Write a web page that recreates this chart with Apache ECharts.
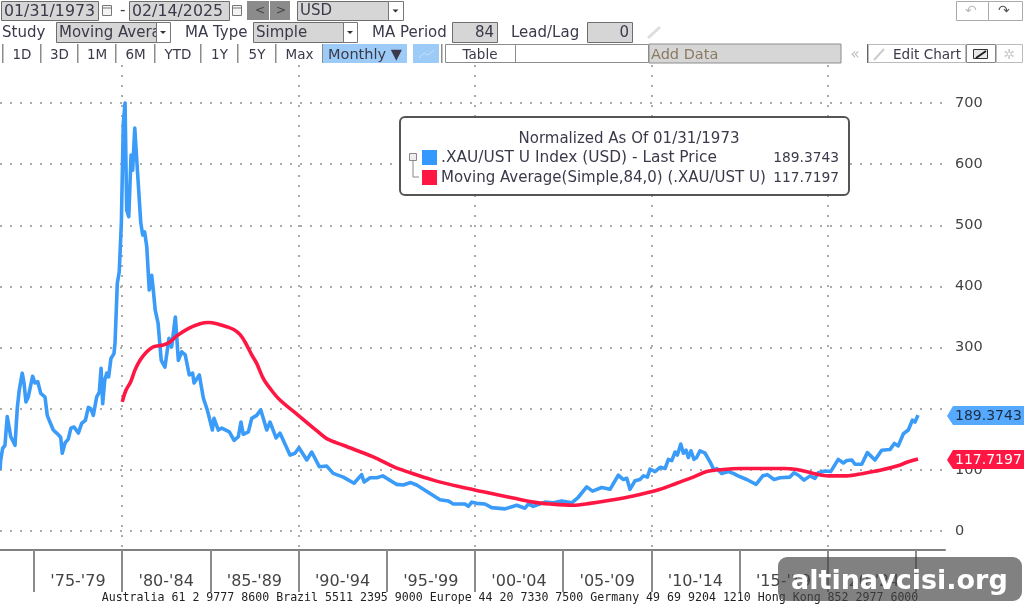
<!DOCTYPE html>
<html>
<head>
<meta charset="utf-8">
<style>html,body{margin:0;padding:0;background:#fff}#c{width:1024px;height:608px}</style>
<script src="https://cdn.jsdelivr.net/npm/echarts@6/dist/echarts.min.js"></script>
</head>
<body>
<div id="c"></div>
<script>
// Gold / US Treasury ratio, normalized to 100 at 01/31/1973, monthly samples.
const priceYears = [1973.08,1973.12,1973.23,1973.36,1973.49,1973.59,1973.69,1973.83,1973.93,1974.06,1974.17,1974.34,1974.44,1974.55,1974.68,1974.78,1974.93,1975.06,1975.22,1975.39,1975.63,1975.76,1975.91,1976.10,1976.29,1976.52,1976.61,1976.77,1976.95,1977.10,1977.28,1977.52,1977.71,1977.92,1978.09,1978.22,1978.37,1978.56,1978.71,1978.81,1978.90,1979.02,1979.13,1979.24,1979.37,1979.54,1979.60,1979.73,1979.84,1979.96,1980.07,1980.17,1980.26,1980.38,1980.51,1980.60,1980.72,1980.79,1980.90,1981.06,1981.17,1981.28,1981.40,1981.54,1981.68,1981.77,1981.88,1982.04,1982.22,1982.43,1982.66,1982.81,1983.02,1983.19,1983.38,1983.58,1983.81,1984.00,1984.08,1984.38,1984.61,1984.83,1985.12,1985.21,1985.46,1985.65,1986.08,1986.35,1986.59,1986.74,1986.87,1987.16,1987.35,1987.63,1987.86,1988.20,1988.39,1988.73,1988.95,1989.52,1989.80,1990.03,1990.47,1990.75,1991.18,1991.60,1991.97,1992.54,1993.15,1993.58,1993.72,1994.06,1994.44,1994.78,1995.57,1995.94,1996.36,1996.70,1997.46,1998.02,1998.49,1998.78,1999.44,1999.63,1999.82,2000.10,2000.57,2000.95,2001.71,2002.37,2002.84,2003.03,2003.31,2003.98,2004.45,2004.92,2005.49,2005.86,2006.34,2006.67,2007.19,2007.66,2008.13,2008.42,2008.61,2008.79,2009.08,2009.36,2009.55,2009.78,2009.93,2010.21,2010.50,2010.78,2010.97,2011.16,2011.35,2011.48,2011.67,2011.82,2011.97,2012.10,2012.25,2012.42,2012.57,2012.76,2013.05,2013.33,2013.56,2013.71,2013.99,2014.37,2014.65,2014.92,2015.41,2015.94,2016.32,2016.58,2016.96,2017.30,2017.86,2018.09,2018.34,2018.66,2019.00,2019.28,2019.47,2019.85,2020.17,2020.60,2020.89,2021.08,2021.36,2021.55,2021.93,2022.25,2022.68,2023.06,2023.53,2023.78,2024.00,2024.29,2024.57,2024.80,2024.95,2025.12];
const priceValues = [100,116,135,140,187,186,154,146,140,201,230,258,242,211,219,217,253,242,244,225,219,189,178,165,160,153,127,144,150,168,170,160,176,181,202,200,189,219,227,266,208,247,258,252,282,290,307,405,424,504,667,700,525,514,615,590,659,626,623,504,484,489,465,394,418,394,361,340,279,268,315,301,350,279,293,288,255,258,242,255,217,198,165,184,165,168,162,148,154,178,158,162,184,189,198,165,178,152,160,124,127,136,116,129,105,106,94,88,78,92,80,87,87,90,76,75,79,75,61,51,49,44,44,40,47,45,44,38,36,42,37,44,40,47,46,49,46,55,72,65,71,68,91,84,86,68,82,84,90,88,101,97,104,102,117,115,129,124,142,127,132,120,131,117,120,131,127,113,99,102,94,97,94,90,84,76,90,92,84,87,88,95,91,83,90,86,95,98,97,117,111,115,116,109,109,128,116,132,133,143,139,159,165,181,178,189.3743];
const averageYears = [1980.01,1980.22,1980.49,1980.73,1981.02,1981.40,1981.77,1982.34,1982.72,1983.10,1983.75,1984.42,1984.90,1985.37,1985.93,1986.35,1986.69,1986.97,1987.35,1987.63,1988.01,1988.39,1988.95,1989.99,1991.03,1991.60,1992.54,1994.24,1995.38,1996.14,1997.64,1999.16,2000.48,2001.81,2003.31,2004.26,2005.56,2006.53,2007.66,2008.98,2010.50,2011.44,2012.38,2013.14,2014.08,2015.03,2017.49,2018.24,2019.19,2020.04,2021.08,2022.02,2022.97,2023.92,2024.57,2025.12];
const averageValues = [211,230,244,263,279,293,301,304,309,319,331,339,341,339,334,329,321,309,288,274,249,233,214,189,164,151,140,121,105,97,83,72,64,56,47,44,42,45,50,57,68,78,88,97,100.5,102,102,100.5,94,90,90,94,99,106,113,117.7197];
const yTicks = [0,100,200,300,400,500,600,700];
const yLabels = [0,100,300,400,500,600,700];
const periodStarts = [1975,1980,1985,1990,1995,2000,2005,2010,2015,2020,2025];
const periodLabels = ["'75-'79","'80-'84","'85-'89","'90-'94","'95-'99","'00-'04","'05-'09","'10-'14","'15-'19","'20-'24"];
const decadeMarks = [1980,1990,2000,2010,2020];
const legendTitle = 'Normalized As Of 01/31/1973';
const priceName = '.XAU/UST U Index (USD) - Last Price';
const averageName = 'Moving Average(Simple,84,0) (.XAU/UST U)';
const phones = 'Australia 61 2 9777 8600 Brazil 5511 2395 9000 Europe 44 20 7330 7500 Germany 49 69 9204 1210 Hong Kong 852 2977 6000';
const blue = '#3a9bf8', red = '#ff1744';
const uiFont = '"DejaVu Sans"';

const pairs = (xs, ys) => xs.map((x, i) => [x, ys[i]]);
const lastPrice = priceValues[priceValues.length - 1];
const lastAverage = averageValues[averageValues.length - 1];

const chart = echarts.init(document.getElementById('c'), null, {renderer: 'canvas'});
const xRange = {min: 1973.08, max: 2026.65};
const dotted = {show: true, lineStyle: {color: '#ababab', width: 2, type: [2, 8]}};

chart.setOption({
  animation: false,
  backgroundColor: '#fff',
  grid: {left: 0, right: 79, top: 65, bottom: 58},
  xAxis: [
    {type: 'value', ...xRange, position: 'bottom',
      axisLine: {show: true, onZero: false, lineStyle: {color: '#808080', width: 2}},
      axisTick: {show: true, length: 42, customValues: periodStarts, lineStyle: {color: '#8a8a8a', width: 2}},
      axisLabel: {show: true, margin: 24, customValues: periodStarts.slice(0, -1).map(y => y + 2.5),
        formatter: v => periodLabels[periodStarts.indexOf(v - 2.5)] || '',
        color: '#444', fontFamily: uiFont, fontSize: 16, hideOverlap: false},
      splitLine: {show: false}},
    {type: 'value', ...xRange, position: 'bottom',
      axisLine: {show: false}, axisLabel: {show: false},
      axisTick: {show: false, customValues: decadeMarks},
      splitLine: dotted}
  ],
  yAxis: {type: 'value', min: -31.3, max: 762.2, position: 'right',
    axisLine: {show: false},
    axisTick: {show: false, customValues: yTicks},
    axisLabel: {show: true, margin: 10, customValues: yLabels, color: '#444', fontFamily: uiFont, fontSize: 14.5, padding: [4, 0, 0, 0]},
    splitLine: dotted},
  series: [
    {name: priceName, type: 'line', data: pairs(priceYears, priceValues), showSymbol: false,
      lineStyle: {color: blue, width: 3.6, join: 'round'}, itemStyle: {color: blue}, z: 3},
    {name: averageName, type: 'line', data: pairs(averageYears, averageValues), showSymbol: false, smooth: 0.35,
      lineStyle: {color: red, width: 3.6}, itemStyle: {color: red}, z: 4}
  ]
});

// Terminal-style chrome drawn around the plot
const els = [];
const rect = (x, y, w, h, fill, stroke, r, z) => els.push({type: 'rect', z: z || 50,
  shape: {x, y, width: w, height: h, r: r || 0},
  style: {fill: fill || 'transparent', stroke: stroke || null, lineWidth: stroke ? 1 : 0}});
const txt = (x, y, t, o) => els.push({type: 'text', z: 60, x, y, style: Object.assign({text: t,
  fill: '#3a3a4a', fontFamily: uiFont, fontSize: 14.5, textVerticalAlign: 'middle', verticalAlign: 'middle', align: 'left'}, o || {})});
const field = (x, y, w, h, t, align, size) => {
  rect(x + .5, y + .5, w, h, '#d6d6d6', '#6e6e6e');
  txt(align === 'right' ? x + w - 3 : x + 3, y + h / 2 + 1, t, {align: align || 'left', fontSize: size || 15});
};
const drop = (x, y, w, h) => {
  rect(x + .5, y + .5, w, h, '#fff', '#777', 0, 65);
  els.push({type: 'polygon', z: 66, shape: {points: [[x + w / 2 - 3, y + h / 2 - 1], [x + w / 2 + 3, y + h / 2 - 1], [x + w / 2, y + h / 2 + 2]]}, style: {fill: '#333'}});
};
const cal = (x, y) => {
  rect(x + .5, y + .5, 9, 10, '#f4f4f4', '#777');
  rect(x + .5, y + 2.5, 9, 1, '#777');
};

// date row
field(1, 1, 97, 19, '01/31/1973', 'left', 15.8); cal(102, 5);
txt(120, 11, '-', {fontSize: 15});
field(129, 1, 100, 19, '02/14/2025', 'left', 15.8); cal(232, 5);
rect(247, 1, 22, 19, '#8b8b8b'); rect(270, 1, 20, 19, '#8b8b8b');
txt(255, 11, '<', {fontSize: 12, fill: '#444'}); txt(276, 11, '>', {fontSize: 12, fill: '#444'});
field(297, 1, 91, 19, 'USD'); drop(388, 1, 15, 19);
rect(956.5, 1.5, 32, 19, '#fff', '#aaa'); rect(988.5, 1.5, 34, 19, '#fff', '#aaa');
txt(965, 11, '↶', {fontSize: 14, fill: '#bbb'}); txt(998, 11, '↷', {fontSize: 14, fill: '#555'});

// study row
txt(2, 33, 'Study', {fontSize: 15});
field(56, 22, 100, 20, 'Moving Avera'); drop(156, 22, 14, 20);
txt(185, 33, 'MA Type', {fontSize: 15});
field(253, 22, 90, 20, 'Simple'); drop(343, 22, 14, 20);
txt(372, 33, 'MA Period', {fontSize: 15});
field(452, 22, 45, 20, '84', 'right');
txt(511, 33, 'Lead/Lag', {fontSize: 15});
field(587, 22, 45, 20, '0', 'right');
els.push({type: 'line', z: 60, shape: {x1: 648, y1: 38, x2: 660, y2: 27}, style: {stroke: '#ddd', lineWidth: 3}});

// range buttons row
const rangeEdges = [2, 40, 77, 115, 154, 200, 237, 275, 322];
const rangeNames = ['1D', '3D', '1M', '6M', 'YTD', '1Y', '5Y', 'Max'];
rect(0, 44, 1024, 20, '#fff');
rangeEdges.forEach(x => rect(x, 44, 1.5, 19, '#8c8c8c'));
rangeNames.forEach((n, i) => txt((rangeEdges[i] + rangeEdges[i + 1]) / 2 + 1, 55, n, {align: 'center', fontSize: 13.5}));
rect(323, 44, 84, 19, '#9dcbf7');
txt(328, 55, 'Monthly ▼', {fontSize: 14.5});
rect(413, 44, 26, 19, '#9dcbf7');
els.push({type: 'polyline', z: 60, shape: {points: [[419, 58], [424, 53], [428, 55], [434, 50]]}, style: {stroke: '#c5def6', fill: null, lineWidth: 1}});
rect(441, 44, 1.5, 19, '#8c8c8c');
rect(445.5, 44.5, 203, 18, '#fff', '#8c8c8c');
rect(515, 44, 1, 19, '#8c8c8c');
txt(480, 55, 'Table', {align: 'center', fontSize: 13.5});
rect(649, 44, 192, 19, '#d6d6d6', '#8c8c8c');
txt(651, 55, 'Add Data', {fontSize: 14.5, fill: '#8a7a62'});
txt(855, 55, '«', {align: 'center', fontSize: 15, fill: '#bbb'});
rect(867, 44, 1.5, 19, '#666');
rect(868.5, 44.5, 97, 18, '#fff', '#bbb');
txt(893, 55, 'Edit Chart', {fontSize: 13.6});
els.push({type: 'line', z: 60, shape: {x1: 874, y1: 60, x2: 884, y2: 49}, style: {stroke: '#ccc', lineWidth: 2}});
rect(966.5, 44.5, 29, 18, '#fff', '#888');
rect(973.5, 49.5, 14, 9, '#e8e8e8', '#333');
els.push({type: 'line', z: 60, shape: {x1: 976, y1: 58, x2: 986, y2: 51}, style: {stroke: '#222', lineWidth: 2}});
rect(996.5, 44.5, 26, 18, '#fff', '#bbb');
txt(1009, 55, '✲', {align: 'center', fontSize: 14, fill: '#ccc'});

// legend box
rect(400, 117, 449, 78, '#fff', '#555', 5);
els[els.length - 1].style.lineWidth = 2;
txt(629, 139, legendTitle, {align: 'center', fontSize: 15});
rect(422, 150, 15, 15, '#3399ff');
rect(422, 170, 15, 15, red);
txt(441, 158, priceName, {fontSize: 15.4});
txt(441, 178, averageName, {fontSize: 15});
txt(839, 158, lastPrice.toFixed(4), {align: 'right', fontSize: 13.8});
txt(839, 178, lastAverage.toFixed(4), {align: 'right', fontSize: 13.8});
rect(409.5, 153.5, 7, 7, '#eee', '#888');
els.push({type: 'polyline', z: 60, shape: {points: [[413, 161], [413, 177], [419, 177]]}, style: {stroke: '#888', fill: null, lineWidth: 1}});

// value tags pinned to the last readings on the right edge
const tag = (value, fill, color) => {
  const y = chart.convertToPixel({yAxisIndex: 0}, value);
  els.push({type: 'polygon', z: 70, shape: {points: [[947, y + 1], [953, y - 9], [1024, y - 9], [1024, y + 10], [953, y + 10]]}, style: {fill}});
  els.push({type: 'text', z: 71, x: 955, y: y + 1, style: {text: value.toFixed(4), fill: color, fontFamily: uiFont, fontSize: 14, verticalAlign: 'middle', textVerticalAlign: 'middle'}});
};
tag(lastPrice, '#55aaff', '#1c2c40');
tag(lastAverage, red, '#fff');

// footer and site badge
txt(510, 598, phones, {align: 'center', fontFamily: '"DejaVu Sans Mono"', fontSize: 11.6, fill: '#222'});
els.push({type: 'rect', z: 80, shape: {x: 778, y: 557, width: 244, height: 44, r: 9}, style: {fill: 'rgba(70,70,70,0.68)'}});
els.push({type: 'text', z: 81, x: 791, y: 582, style: {text: 'altinavcisi.org', fill: '#fff', fontFamily: uiFont, fontWeight: 'bold', fontSize: 27, verticalAlign: 'middle', textVerticalAlign: 'middle', textShadowColor: '#000', textShadowBlur: 0, textShadowOffsetX: 2, textShadowOffsetY: 2}});

chart.setOption({graphic: {elements: els}});
</script>
</body>
</html>
